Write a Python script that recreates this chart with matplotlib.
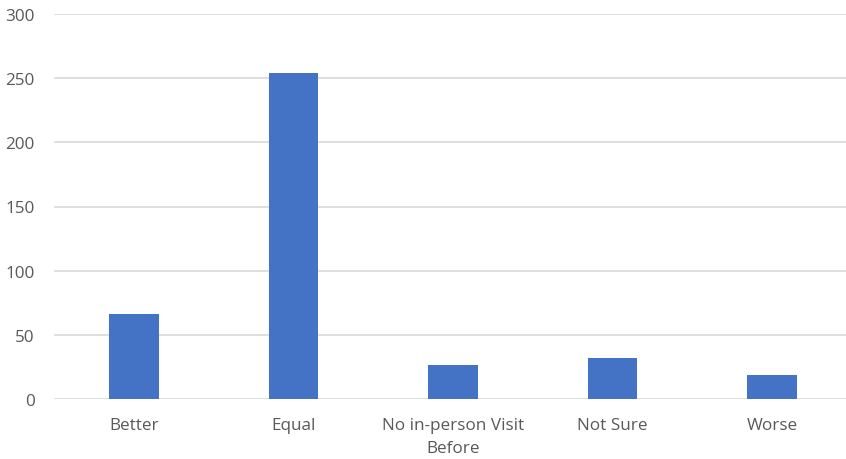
import matplotlib
matplotlib.use('Agg')
import matplotlib.pyplot as plt

categories = ['Better', 'Equal', 'No in-person Visit\nBefore', 'Not Sure', 'Worse']
counts = [66, 254, 27, 32, 19]
yticks = [0, 50, 100, 150, 200, 250, 300]

plt.rcParams['font.family'] = ['Open Sans', 'DejaVu Sans']

fig = plt.figure(figsize=(8.46, 4.60), dpi=100)
ax = fig.add_axes([54 / 846, 59.7 / 460, 798 / 846, 385.6 / 460])

x = range(len(categories))
ax.bar(x, counts, width=0.31, color='#4472C4', zorder=3)

ax.set_xlim(-0.5, len(categories) - 0.5)
ax.set_ylim(0, 300)
ax.set_yticks(yticks)
ax.set_xticks(list(x))
ax.set_xticklabels(categories, linespacing=1.55)

ax.grid(axis='y', color='#D9D9D9', linewidth=1.2, zorder=0)
for side in ['top', 'right', 'left', 'bottom']:
    ax.spines[side].set_visible(False)
ax.tick_params(axis='both', length=0, colors='#595959', labelsize=12.3)
ax.tick_params(axis='y', pad=14)
ax.tick_params(axis='x', pad=13)

fig.savefig('out.png', dpi=100)
